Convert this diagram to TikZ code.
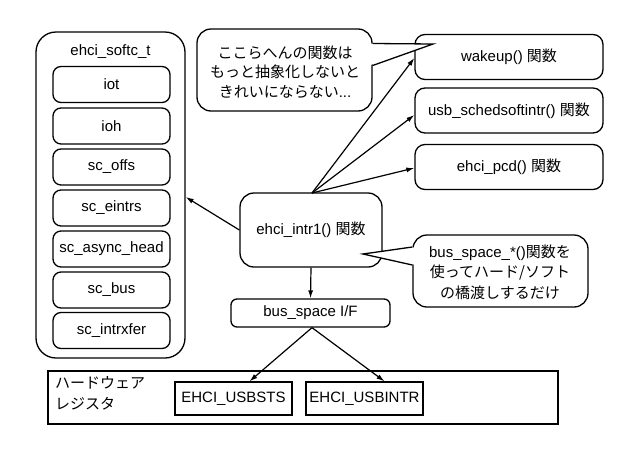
\documentclass[tikz,border=0pt]{standalone}
\usepackage{fontspec}
\setmainfont{Liberation Sans}
\newfontfamily\jp{Noto Sans CJK JP}
\usetikzlibrary{arrows.meta}
\begin{document}
\begin{tikzpicture}[x=1pt,y=-1pt,
  every node/.style={font=\fontsize{15}{20}\selectfont, inner sep=0pt},
  box/.style={draw, line width=1.3pt},
  field/.style={box, rounded corners=8pt, minimum width=117pt, minimum height=36pt},
  fn/.style={box, rounded corners=10pt, minimum width=188pt, minimum height=45pt},
  reg/.style={box, minimum width=117pt, minimum height=33pt},
  arr/.style={line width=1.2pt, -{Latex[length=8pt,width=5pt]}},
  bubble/.style={box, fill=white, rounded corners=14pt},
  tail/.style={line width=1.3pt, line join=miter}]
\path[use as bounding box, fill=white] (0,0) rectangle (640,453);

% ehci_softc_t structure
\node[box, rounded corners=20pt, minimum width=149pt, minimum height=326pt] (softc) at (110.5,195) {};
\node (title) at (110.5,52) {ehci\_softc\_t};
\node[field] (iot) at (111.5,84.5) {iot};
\node[field] (ioh) at (111.5,126) {ioh};
\node[field] (offs) at (111.5,167) {sc\_offs};
\node[field] (eintrs) at (111.5,208) {sc\_eintrs};
\node[field] (async) at (111.5,249) {sc\_async\_head};
\node[field] (bus) at (111.5,290) {sc\_bus};
\node[field] (intrx) at (111.5,330.5) {sc\_intrxfer};

% functions
\node[fn] (wake) at (509,57) {wakeup() {\jp 関数}};
\node[fn] (sched) at (509,110.5) {usb\_schedsoftintr() {\jp 関数}};
\node[fn] (pcd) at (509,167) {ehci\_pcd() {\jp 関数}};

\node[box, rounded corners=14pt, minimum width=142pt, minimum height=74pt] (intr) at (311,230) {ehci\_intr1() {\jp 関数}};
\node[box, rounded corners=6pt, minimum width=159pt, minimum height=28pt] (bsif) at (310.5,313) {bus\_space I/F};

% hardware registers
\node[box, minimum width=510pt, minimum height=53pt] (hw) at (303,397.5) {};
\node[anchor=west, align=left, font=\jp\fontsize{15}{21}\selectfont] (hwlabel) at (55,393) {ハードウェア\\レジスタ};
\node[reg] (usbsts) at (233.5,398.5) {EHCI\_USBSTS};
\node[reg] (usbintr) at (364.5,398.5) {EHCI\_USBINTR};

% connectors
\coordinate (src) at (312,193);
\draw[arr] (src) -- ([yshift=-1pt]wake.west);
\draw[arr] (src) -- ([yshift=-4.5pt]sched.west);
\draw[arr] (src) -- ([yshift=-1pt]pcd.west);
\draw[arr] (intr.west) -- ([yshift=-2pt]softc.east);
\draw[arr] (intr.south) -- (bsif.north);
\draw[arr] ([xshift=1.5pt]bsif.south) -- ([xshift=16pt]usbsts.north);
\draw[arr] ([xshift=1.5pt]bsif.south) -- ([xshift=20pt]usbintr.north);

% speech bubble 1
\node[bubble, minimum width=175pt, minimum height=82pt] (b1) at (284.5,70) {};
\coordinate (t1) at (433,44);
\fill[white] (369,43.5) -- (t1) -- (369,65.5) -- cycle;
\draw[tail] (b1.east |- 0,43.5) -- (t1) -- (b1.east |- 0,65.5);
\node[align=center, font=\jp\fontsize{15}{19.5}\selectfont] (note1) at (285,72) {ここらへんの関数は\\もっと抽象化しないと\\きれいにならない{\rmfamily ...}};

% speech bubble 2
\node[bubble, minimum width=175pt, minimum height=72pt] (b2) at (500.5,271) {};
\coordinate (t2) at (363,254);
\fill[white] (416,247) -- (t2) -- (416,265) -- cycle;
\draw[tail] (b2.west |- 0,247) -- (t2) -- (b2.west |- 0,265);
\node[align=center, font=\fontsize{15}{20.5}\selectfont] (note2) at (500,272) {bus\_space\_*(){\jp 関数を}\\{\jp 使ってハード/ソフト}\\{\jp の橋渡しするだけ}};
\end{tikzpicture}
\end{document}
